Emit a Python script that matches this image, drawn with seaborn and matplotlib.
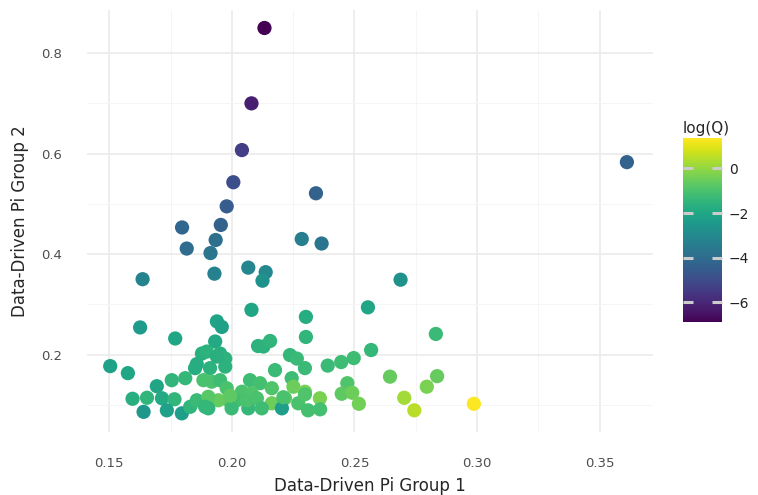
import pandas as pd
import seaborn as sns
import matplotlib.pyplot as plt
from matplotlib.colors import Normalize
from matplotlib.cm import ScalarMappable
from matplotlib.ticker import MultipleLocator

# Data
pi_group_1 = [
    0.2133, 0.2080, 0.2041, 0.2006, 0.1979, 0.2343, 0.1797, 0.1955, 0.1934, 0.1816,
    0.1913, 0.2285, 0.2366, 0.3611, 0.1636, 0.1929, 0.2067, 0.2138, 0.2125, 0.2688,
    0.2080, 0.2302, 0.2555, 0.1626, 0.1769, 0.1939, 0.1959, 0.1932, 0.2302, 0.2107,
    0.2129, 0.2156, 0.2832, 0.2568, 0.2497, 0.2446, 0.2391, 0.1504, 0.1576, 0.1694,
    0.1595, 0.1654, 0.1640, 0.1715, 0.1766, 0.1735, 0.1755, 0.1810, 0.1796, 0.1830,
    0.1857, 0.1878, 0.1898, 0.1850, 0.1911, 0.1884, 0.1952, 0.1973, 0.1973, 0.1939,
    0.2237, 0.2265, 0.2298, 0.2176, 0.2244, 0.2074, 0.2115, 0.2163, 0.2251, 0.1918,
    0.1952, 0.1979, 0.2041, 0.2081, 0.2102, 0.2020, 0.1986, 0.1945, 0.1904, 0.2163,
    0.2217, 0.2298, 0.2359, 0.2271, 0.2360, 0.2204, 0.2067, 0.2122, 0.1999, 0.1904,
    0.2645, 0.2837, 0.2795, 0.2471, 0.2448, 0.2491, 0.2518, 0.2703, 0.2744, 0.2987,
    0.2210, 0.2298, 0.2311, 0.1891, 0.2061, 0.1993, 0.1857,
]
pi_group_2 = [
    0.850, 0.700, 0.607, 0.543, 0.495, 0.521, 0.453, 0.458, 0.428, 0.411,
    0.402, 0.430, 0.421, 0.583, 0.350, 0.361, 0.373, 0.364, 0.347, 0.349,
    0.289, 0.275, 0.294, 0.254, 0.232, 0.266, 0.255, 0.226, 0.235, 0.217,
    0.216, 0.227, 0.241, 0.209, 0.193, 0.185, 0.178, 0.177, 0.163, 0.137,
    0.112, 0.114, 0.086, 0.113, 0.111, 0.089, 0.149, 0.153, 0.083, 0.096,
    0.109, 0.202, 0.206, 0.173, 0.173, 0.149, 0.202, 0.192, 0.176, 0.196,
    0.199, 0.192, 0.173, 0.169, 0.153, 0.149, 0.143, 0.133, 0.136, 0.146,
    0.149, 0.133, 0.126, 0.123, 0.113, 0.109, 0.109, 0.109, 0.116, 0.103,
    0.113, 0.126, 0.113, 0.103, 0.091, 0.093, 0.093, 0.093, 0.093, 0.093,
    0.156, 0.157, 0.136, 0.143, 0.122, 0.124, 0.102, 0.114, 0.089, 0.102,
    0.115, 0.121, 0.089, 0.096, 0.109, 0.118, 0.181,
]
log_q = [
    -6.9, -6.2, -5.4, -4.9, -4.5, -4.3, -4.2, -4.3, -3.9, -4.0,
    -3.7, -3.4, -3.7, -4.3, -3.2, -3.3, -3.1, -3.0, -2.7, -2.7,
    -2.0, -1.8, -2.0, -2.4, -2.0, -2.1, -2.2, -1.9, -1.5, -1.6,
    -1.6, -1.5, -1.3, -1.4, -1.2, -1.2, -1.3, -2.2, -2.0, -2.0,
    -1.7, -1.5, -2.5, -1.9, -1.5, -2.2, -1.5, -1.4, -2.3, -1.5,
    -1.3, -1.7, -1.6, -1.8, -1.6, -1.0, -1.7, -1.6, -1.6, -1.7,
    -1.4, -1.3, -1.3, -1.3, -1.2, -1.2, -1.1, -0.9, -0.5, -1.0,
    -1.2, -1.0, -1.0, -0.9, -1.0, -1.1, -0.8, -0.6, -0.8, -0.5,
    -0.7, -0.3, -0.3, -1.0, -1.1, -2.3, -1.4, -1.2, -1.3, -1.5,
    -0.6, -0.6, -0.3, -0.9, -0.7, -0.5, -0.4, 0.2, 0.5, 1.3,
    -1.0, -0.9, -1.1, -1.4, -1.0, -0.7, -1.8,
]
cbar_ticks = [-6, -4, -2, 0]

df = pd.DataFrame({'pi1': pi_group_1, 'pi2': pi_group_2, 'logQ': log_q})

sns.set_theme(style='white')
plt.rcParams['font.family'] = ['DejaVu Sans']

fig = plt.figure(figsize=(7.58, 4.95), dpi=100)
ax = fig.add_axes([0.115, 0.127, 0.746, 0.853])

norm = Normalize(-6.9, 1.36)
sns.scatterplot(data=df, x='pi1', y='pi2', hue='logQ', palette='viridis',
                hue_norm=norm, s=105, edgecolor='none', legend=False, ax=ax)

ax.set_xlim(0.141, 0.3716)
ax.set_ylim(0.0456, 0.886)
ax.xaxis.set_major_locator(MultipleLocator(0.05))
ax.xaxis.set_minor_locator(MultipleLocator(0.025))
ax.yaxis.set_major_locator(MultipleLocator(0.2))
ax.yaxis.set_minor_locator(MultipleLocator(0.1))
ax.grid(which='major', color='#ebebeb', lw=1.2)
ax.grid(which='minor', color='#f5f5f5', lw=0.7)
ax.set_axisbelow(True)
for sp in ax.spines.values():
    sp.set_visible(False)
ax.tick_params(which='both', length=0, pad=18, labelsize=9.5, labelcolor='#4d4d4d')
ax.set_xticklabels(['%.2f' % t for t in ax.get_xticks()])
ax.set_xlabel('Data-Driven Pi Group 1', fontsize=12, labelpad=5)
ax.set_ylabel('Data-Driven Pi Group 2', fontsize=12, labelpad=9)

# Colourbar on the right, ticks drawn over the colour strip
cax = fig.add_axes([0.901, 0.349, 0.0515, 0.372])
cb = fig.colorbar(ScalarMappable(norm=norm, cmap='viridis'), cax=cax)
cb.outline.set_visible(False)
cb.set_ticks(cbar_ticks)
cax.set_axisbelow(False)
cax.tick_params(direction='in', length=7, width=2.2, color='#cccccc',
                left=True, right=True, labelsize=10, pad=5, labelcolor='#222222')
cax.set_title('log(Q)', fontsize=11, loc='left', pad=4)

fig.savefig('out.png', dpi=100)
